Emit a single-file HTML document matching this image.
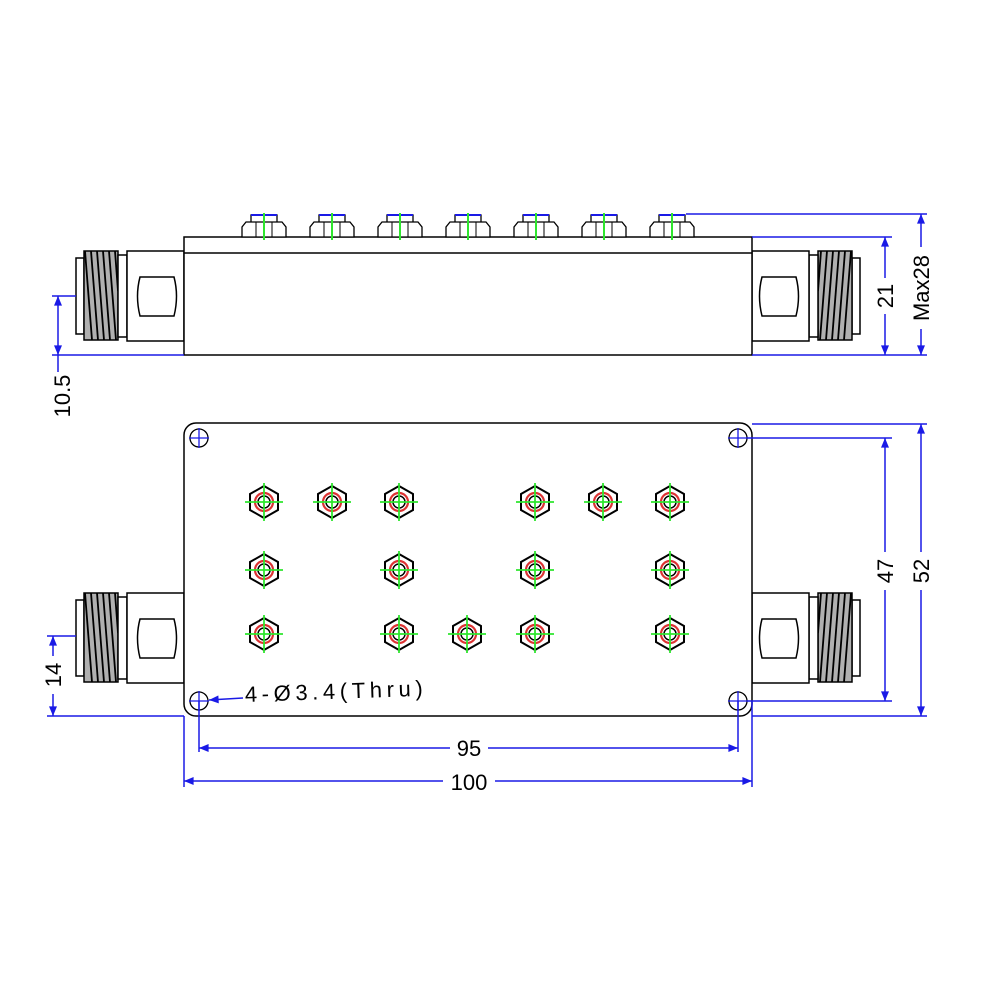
<!DOCTYPE html>
<html><head><meta charset="utf-8"><style>html,body{margin:0;padding:0;background:#fff}svg{display:block}</style></head>
<body>
<svg width="1000" height="1000" viewBox="0 0 1000 1000" xmlns="http://www.w3.org/2000/svg" font-family="Liberation Sans, sans-serif">
<defs>
<marker id="a" viewBox="0 0 12 10" refX="12" refY="5" markerWidth="12" markerHeight="8" orient="auto-start-reverse" markerUnits="userSpaceOnUse">
<path d="M0,0 L12,5 L0,10 z" fill="#1a1ae6"/></marker>
<g id="thr">
<rect x="0" y="0" width="34" height="89" fill="#b0b0b0" stroke="#000" stroke-width="1.5"/>
<g stroke="#000" stroke-width="1.8">
<line x1="1" y1="0" x2="8" y2="89"/><line x1="7" y1="0" x2="14" y2="89"/><line x1="13" y1="0" x2="20" y2="89"/><line x1="19" y1="0" x2="26" y2="89"/><line x1="25" y1="0" x2="32" y2="89"/><line x1="31" y1="0" x2="34" y2="40"/>
</g></g>
<g id="connL">
<rect x="76" y="7" width="8" height="76" fill="#fff" stroke="#000" stroke-width="1.5"/>
<use href="#thr" x="84" y="0"/>
<rect x="118" y="4" width="9" height="82" fill="#fff" stroke="#000" stroke-width="1.5"/>
<rect x="127" y="0" width="57" height="90" fill="#fff" stroke="#000" stroke-width="1.5"/>
<path d="M140,26 L174,26 Q179,45 174,65 L140,65 Q135,45 140,26 Z" fill="#fff" stroke="#000" stroke-width="1.5"/>
</g>
<g id="nut">
<rect x="-13" y="-22" width="26" height="8" fill="#fff" stroke="#000" stroke-width="1.3"/>
<line x1="-13" y1="-22" x2="13" y2="-22" stroke="#1a1ae6" stroke-width="2"/>
<path d="M-18,-15 L18,-15 L22,-10 L22,0 L-22,0 L-22,-10 Z" fill="#fff" stroke="#000" stroke-width="1.3"/>
<line x1="-8" y1="-15" x2="-8" y2="0" stroke="#000"/><line x1="8" y1="-15" x2="8" y2="0" stroke="#000"/>
<line x1="0" y1="-24" x2="0" y2="3" stroke="#2ee62e" stroke-width="2"/>
</g>
<g id="scr">
<polygon points="0,-16 14,-8 14,8 0,16 -14,8 -14,-8" fill="#fff" stroke="#000" stroke-width="2"/>
<circle r="9" fill="none" stroke="#d33" stroke-width="2.2"/>
<circle r="6" fill="none" stroke="#000" stroke-width="1.5"/>
<line x1="-19" y1="0" x2="19" y2="0" stroke="#2ee62e" stroke-width="1.8"/>
<line x1="0" y1="-19" x2="0" y2="19" stroke="#2ee62e" stroke-width="1.8"/>
</g>
<g id="hole"><circle r="9" fill="none" stroke="#000" stroke-width="1.3"/><line x1="-10" y1="0" x2="10" y2="0" stroke="#1a1ae6" stroke-width="1.3"/><line x1="0" y1="-10" x2="0" y2="10" stroke="#1a1ae6" stroke-width="1.3"/></g>
</defs>

<use href="#connL" x="0" y="251"/>
<use href="#connL" transform="translate(936,251) scale(-1,1)"/>
<rect x="184" y="237" width="568" height="118" fill="#fff" stroke="#000" stroke-width="1.5"/>
<line x1="184" y1="253" x2="752" y2="253" stroke="#000" stroke-width="1.5"/>
<use href="#nut" x="264" y="237"/><use href="#nut" x="332" y="237"/><use href="#nut" x="400" y="237"/><use href="#nut" x="468" y="237"/><use href="#nut" x="536" y="237"/><use href="#nut" x="604" y="237"/><use href="#nut" x="672" y="237"/>

<g stroke="#1a1ae6" stroke-width="1.5" fill="none">
<line x1="52" y1="296" x2="76" y2="296"/><line x1="52" y1="355" x2="184" y2="355"/>
<line x1="58" y1="296" x2="58" y2="355" marker-start="url(#a)" marker-end="url(#a)"/>
<line x1="58" y1="355" x2="58" y2="372"/>
<line x1="686" y1="214" x2="927" y2="214"/><line x1="752" y1="237" x2="892" y2="237"/><line x1="752" y1="355" x2="927" y2="355"/>
<line x1="885" y1="237" x2="885" y2="355" marker-start="url(#a)" marker-end="url(#a)"/>
<line x1="921" y1="214" x2="921" y2="355" marker-start="url(#a)" marker-end="url(#a)"/>
</g>
<rect x="873" y="278" width="24" height="36" fill="#fff"/>
<rect x="909" y="247" width="24" height="82" fill="#fff"/>
<text transform="translate(70,396) rotate(-90)" text-anchor="middle" font-size="22">10.5</text>
<text transform="translate(893,296) rotate(-90)" text-anchor="middle" font-size="22">21</text>
<text transform="translate(929,288) rotate(-90)" text-anchor="middle" font-size="22">Max28</text>

<use href="#connL" x="0" y="593"/>
<use href="#connL" transform="translate(936,593) scale(-1,1)"/>
<rect x="184" y="423" width="568" height="293" rx="12" fill="#fff" stroke="#000" stroke-width="1.5"/>
<use href="#hole" x="199" y="438"/><use href="#hole" x="738" y="438"/><use href="#hole" x="199" y="701"/><use href="#hole" x="738" y="701"/>
<use href="#scr" x="264" y="502"/><use href="#scr" x="332" y="502"/><use href="#scr" x="399" y="502"/><use href="#scr" x="535" y="502"/><use href="#scr" x="603" y="502"/><use href="#scr" x="670" y="502"/>
<use href="#scr" x="264" y="570"/><use href="#scr" x="399" y="570"/><use href="#scr" x="535" y="570"/><use href="#scr" x="670" y="570"/>
<use href="#scr" x="264" y="634"/><use href="#scr" x="399" y="634"/><use href="#scr" x="467" y="634"/><use href="#scr" x="535" y="634"/><use href="#scr" x="670" y="634"/>

<g stroke="#1a1ae6" stroke-width="1.5" fill="none">
<line x1="47" y1="636" x2="76" y2="636"/><line x1="47" y1="716" x2="184" y2="716"/>
<line x1="53" y1="636" x2="53" y2="716" marker-start="url(#a)" marker-end="url(#a)"/>
<line x1="199" y1="701" x2="199" y2="752"/><line x1="738" y1="701" x2="738" y2="752"/>
<line x1="184" y1="716" x2="184" y2="787"/><line x1="752" y1="701" x2="752" y2="787"/>
<line x1="199" y1="748" x2="738" y2="748" marker-start="url(#a)" marker-end="url(#a)"/>
<line x1="184" y1="781" x2="752" y2="781" marker-start="url(#a)" marker-end="url(#a)"/>
<line x1="747" y1="438" x2="892" y2="438"/><line x1="747" y1="701" x2="892" y2="701"/>
<line x1="752" y1="424" x2="927" y2="424"/><line x1="752" y1="716" x2="927" y2="716"/>
<line x1="885" y1="438" x2="885" y2="701" marker-start="url(#a)" marker-end="url(#a)"/>
<line x1="921" y1="424" x2="921" y2="716" marker-start="url(#a)" marker-end="url(#a)"/>
<line x1="243" y1="698" x2="209" y2="700" marker-end="url(#a)"/>
</g>
<rect x="41" y="656" width="24" height="38" fill="#fff"/>
<rect x="450" y="736" width="38" height="24" fill="#fff"/>
<rect x="443" y="770" width="52" height="24" fill="#fff"/>
<rect x="873" y="552" width="24" height="38" fill="#fff"/>
<rect x="909" y="552" width="24" height="38" fill="#fff"/>
<text transform="translate(61,675) rotate(-90)" text-anchor="middle" font-size="22">14</text>
<text x="469" y="756" text-anchor="middle" font-size="22">95</text>
<text x="469" y="790" text-anchor="middle" font-size="22">100</text>
<text transform="translate(893,571) rotate(-90)" text-anchor="middle" font-size="22">47</text>
<text transform="translate(929,571) rotate(-90)" text-anchor="middle" font-size="22">52</text>
<text x="245" y="702" font-size="22" textLength="178" transform="rotate(-2 245 700)">4-Ø3.4(Thru)</text>
</svg>
</body></html>
